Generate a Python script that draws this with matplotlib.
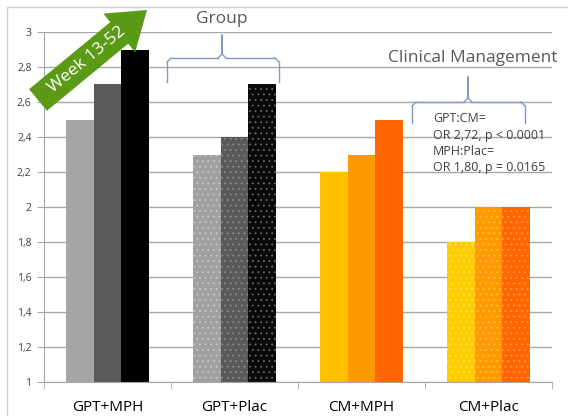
import matplotlib.pyplot as plt
import matplotlib.patches as mpatches
import numpy as np

plt.rcParams['font.family'] = ['Open Sans', 'DejaVu Sans']
plt.rcParams['hatch.linewidth'] = 0.6

categories = ['GPT+MPH', 'GPT+Plac', 'CM+MPH', 'CM+Plac']
# three bars per group
values = [
    [2.5, 2.7, 2.9],
    [2.3, 2.4, 2.7],
    [2.2, 2.3, 2.5],
    [1.8, 2.0, 2.0],
]
colors = [
    ['#A6A6A6', '#595959', '#000000'],
    ['#A0A0A0', '#595959', '#0A0A0A'],
    ['#FFC000', '#FF9900', '#FF6600'],
    ['#FFCC00', '#FF9900', '#FF6600'],
]
dotted = [False, True, False, True]
dot_colors = ['#C8C8C8', '#8C8C8C', '#6A6A6A']
dot_colors_orange = ['#FFE066', '#FFBB55', '#FF9955']
yticks = [1, 1.2, 1.4, 1.6, 1.8, 2, 2.2, 2.4, 2.6, 2.8, 3]
ytick_labels = ['1', '1,2', '1,4', '1,6', '1,8', '2', '2,2', '2,4', '2,6', '2,8', '3']
stats_text = 'GPT:CM=\nOR 2,72, p < 0.0001\nMPH:Plac=\nOR 1,80, p = 0.0165'

fig = plt.figure(figsize=(5.68, 4.16), dpi=100)
ax = fig.add_axes([44/568, 34/416, 508/568, 350/416])

w = 0.219
x = np.arange(len(categories))
for i in range(len(categories)):
    for j in range(3):
        if dotted[i]:
            dc = dot_colors[j] if i < 2 else dot_colors_orange[j]
            ax.bar(x[i] + (j - 1) * w, values[i][j] - 1, w, bottom=1,
                   color=colors[i][j], edgecolor=dc, linewidth=0,
                   hatch='...', zorder=2)
        else:
            ax.bar(x[i] + (j - 1) * w, values[i][j] - 1, w, bottom=1,
                   color=colors[i][j], linewidth=0, zorder=2)

ax.set_xlim(-0.5, 3.5)
ax.set_ylim(1, 3)
ax.set_yticks(yticks)
ax.set_yticklabels(ytick_labels, fontsize=7.5, color='#404040')
ax.set_xticks(x)
ax.set_xticklabels(categories, fontsize=11, color='black')
ax.set_xticks(np.arange(-0.5, 4, 1), minor=True)
ax.tick_params(axis='x', which='major', length=0, pad=13)
ax.tick_params(axis='x', which='minor', length=5, color='#A6A6A6', direction='out')
ax.tick_params(axis='y', length=5, color='#A6A6A6', pad=4)
ax.yaxis.grid(True, color='#A8A8A8', linewidth=1, zorder=0)
ax.set_axisbelow(True)
for s in ['top', 'right']:
    ax.spines[s].set_visible(False)
ax.spines['left'].set_color('#A6A6A6')
ax.spines['bottom'].set_color('#A6A6A6')

# overlay in pixel coordinates for the annotations
ov = fig.add_axes([0, 0, 1, 1], facecolor='none')
ov.set_xlim(0, 568)
ov.set_ylim(416, 0)
ov.axis('off')

ov.add_patch(mpatches.Rectangle((7, 7), 600, 420, fill=False,
                                edgecolor='#D0D0D0', linewidth=1))

# green arrow
tail = np.array([38, 100])
tip = np.array([147, 10])
d = tip - tail
ov.add_patch(mpatches.FancyArrow(tail[0], tail[1], d[0], d[1], width=28,
                                 head_width=50, head_length=36,
                                 length_includes_head=True,
                                 color='#5B9A16', linewidth=0, zorder=5))
ang = np.degrees(np.arctan2(-d[1], d[0]))
ov.text(87, 60, 'Week 13-52', rotation=ang, color='white', fontsize=12.5,
        ha='center', va='center', rotation_mode='anchor', zorder=6)


def brace(x0, x1, y, top, bottom, xm):
    bc = '#7F9CC0'
    r = 4
    ov.plot([x0, x0], [bottom, y + r], color=bc, lw=1)
    ov.plot([x0, x0 + r], [y + r, y], color=bc, lw=1)
    ov.plot([x0 + r, xm - r], [y, y], color=bc, lw=1)
    ov.plot([xm - r, xm, xm, xm, xm + r], [y, y - r, top, y - r, y], color=bc, lw=1)
    ov.plot([xm + r, x1 - r], [y, y], color=bc, lw=1)
    ov.plot([x1 - r, x1], [y, y + r], color=bc, lw=1)
    ov.plot([x1, x1], [y + r, bottom], color=bc, lw=1)


brace(167, 279, 58, 35, 82, 222)
brace(412, 525, 102, 77, 123, 468)

ov.text(222, 19, 'Group', fontsize=12.5, color='#595959', ha='center', va='center')
ov.text(473, 58, 'Clinical Management', fontsize=12.5, color='#595959',
        ha='center', va='center')
ov.text(433, 112, stats_text, fontsize=9, color='#404040', ha='left',
        va='top', linespacing=1.35)

fig.savefig('out.png', dpi=100)
